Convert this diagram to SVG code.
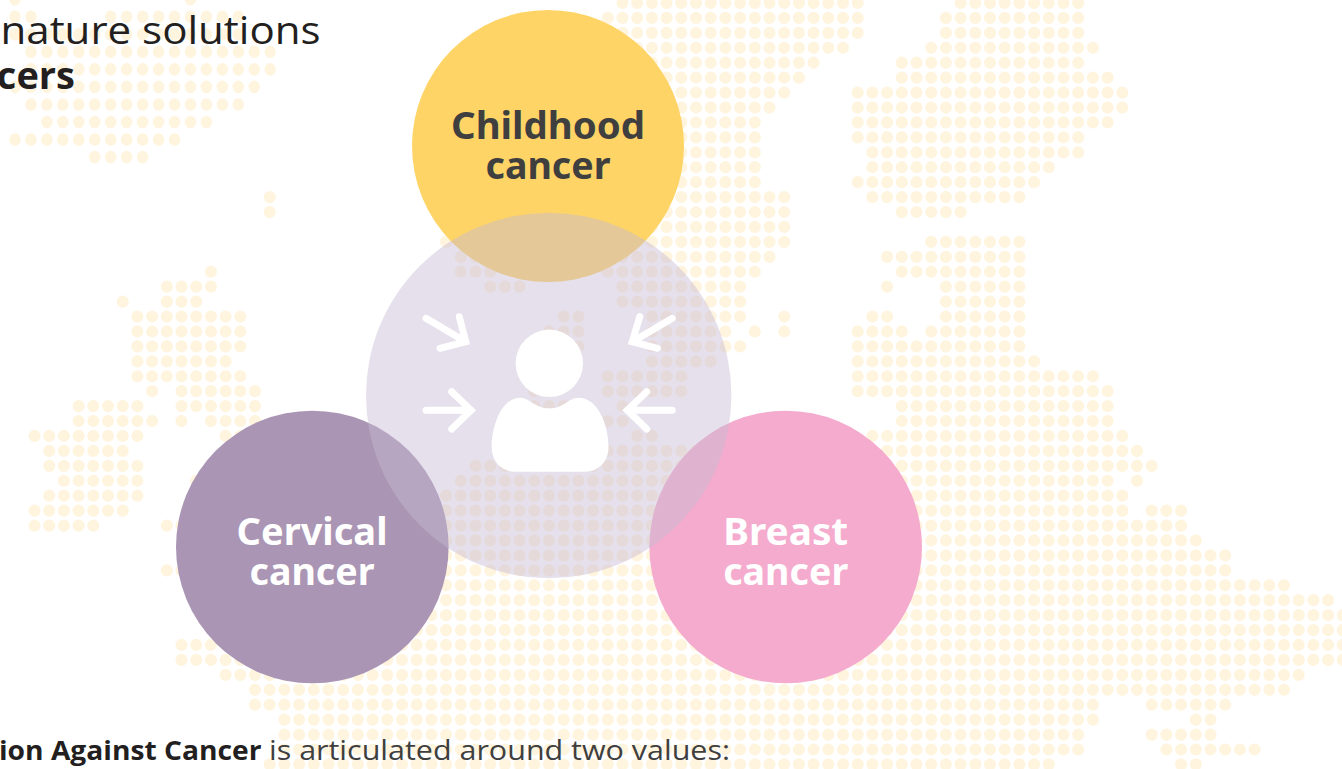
<svg xmlns="http://www.w3.org/2000/svg" width="1342" height="769" viewBox="0 0 1342 769">
<style>
.dots{fill:none;stroke:#FFF4DE;stroke-linecap:round;stroke-dasharray:.001 .999}
.lbl{font-family:"Noto Sans","Open Sans",sans-serif;font-weight:700;font-size:38px;text-anchor:middle}
.txt{font-family:"Open Sans","Noto Sans",sans-serif}
.arrow{fill:none;stroke:#fff;stroke-width:7;stroke-linecap:round;stroke-linejoin:miter}
</style>
<rect width="1342" height="769" fill="#fff"/>
<g id="dot-map">
<g transform="translate(5.1 3) scale(14.7 14.93)"><path class="dots" stroke-width=".82" d="M42 0H58.05M65 0H73.05M41 1H58.05M64 1H73.05M41 2H58.05M64 2H73.05M43 3H57.05M63 3H74.05M43 4H55.05M61 4H73.05M43 5H54.05M61 5H75.05M43 6H53.05M58 6H76.05M43 7H52.05M58 7H76.05M43 8H51.05M58 8H75.05M43 9H51.05M58 9H73.05M43 10H51.05M59 10H73.05M43 11H51.05M59 11H71.05M43 12H51.05M58 12H70.05M18 13h.05M43 13H53.05M59 13H69.05M18 14h.05M43 14H53.05M61 14H65.05M43 15H53.05M30 16H53.05M63 16H69.05M31 17H52.05M60 17H69.05M14 18h.05M31 18H33.05M41 18H51.05M61 18H69.05M11 19H14.05M33 19H35.05M42 19H50.05M60 19h.05M64 19H69.05M8 20h.05M11 20H13.05M42 20H50.05M64 20H69.05M9 21H16.05M38 21H39.05M44 21H50.05M53 21h.05M59 21H60.05M64 21H69.05M9 22H16.05M37 22H39.05M44 22H49.05M51 22h.05M53 22h.05M58 22H61.05M63 22H69.05M9 23H16.05M37 23H39.05M44 23H50.05M58 23H69.05M9 24H15.05M44 24H48.05M58 24H70.05M9 25H16.05M41 25H46.05M58 25H74.05M10 26h.05M12 26H17.05M36 26H37.05M41 26H46.05M58 26H75.05M5 27H9.05M12 27H17.05M36 27H38.05M42 27h.05M61 27H75.05M5 28H10.05M12 28h.05M14 28H17.05M41 28H42.05M61 28H75.05M2 29H9.05M15 29H17.05M43 29H44.05M59 29H76.05M3 30H8.05M41 30H77.05M3 31H9.05M32 31H78.05M4 32H9.05M13 32h.05M31 32H75.05M77 32h.05M3 33H9.05M30 33H76.05M2 34H8.05M20 34H76.05M78 34H80.05M2 35H6.05M11 35H12.05M20 35H80.05M20 36H81.05M20 37H83.05M11 38H12.05M20 38H83.05M20 39H87.05M20 40H90.05M20 41H91.05M20 42H91.05M12 43H91.05M12 44H91.05M15 45H88.05M17 46H87.05M17 47H74.05M78 47H83.05M19 48H74.05M81 48H82.05M19 49H73.05M78 49H82.05M19 50H73.05M79 50H85.05M18 51H71.05M80 51H81.05"/></g>
<g transform="translate(15 16.7) scale(15.95 17.55)"><path class="dots" stroke-width=".72" d="M0 -1h.05M11 -1h.05M0 0H1.05M6 0H14.05M0 1H14.05M1 2H16.05M1 3H16.05M0 4H15.05M1 5H14.05M2 6H12.05M0 7H10.05M5 8H8.05"/></g>
</g>
<g id="heading">
<text class="txt" x="0.5" y="44.3" font-size="39" fill="#231F20" textLength="320" lengthAdjust="spacingAndGlyphs">nature solutions</text>
<text class="txt" x="75" y="88.5" font-size="38" font-weight="700" fill="#231F20" text-anchor="end">cers</text>
</g>
<g id="node-childhood">
<circle cx="548" cy="146" r="136" fill="#FFD466"/>
<text class="lbl" fill="#3F3F3F" x="548" y="138.5" textLength="194" lengthAdjust="spacingAndGlyphs">Childhood</text>
<text class="lbl" fill="#3F3F3F" x="548" y="178.5" textLength="125" lengthAdjust="spacingAndGlyphs">cancer</text>
</g>
<g id="node-cervical">
<circle cx="312.3" cy="547" r="136.3" fill="#AA96B4"/>
<text class="lbl" fill="#fff" x="312" y="545" textLength="151" lengthAdjust="spacingAndGlyphs">Cervical</text>
<text class="lbl" fill="#fff" x="312" y="585" textLength="125" lengthAdjust="spacingAndGlyphs">cancer</text>
</g>
<g id="node-breast">
<circle cx="785.7" cy="547" r="136.3" fill="#F4ABCE"/>
<text class="lbl" fill="#fff" x="785.7" y="545" textLength="125" lengthAdjust="spacingAndGlyphs">Breast</text>
<text class="lbl" fill="#fff" x="785.7" y="585" textLength="125" lengthAdjust="spacingAndGlyphs">cancer</text>
</g>
<g id="node-person">
<circle cx="548.7" cy="395.5" r="182.7" fill="#C5BAD3" fill-opacity=".45"/>
<circle cx="549.3" cy="363.3" r="33.7" fill="#fff"/>
<path fill="#fff" d="M520 397.7C530 398 535 408.3 549.5 408.3C564 408.3 568 398 578.5 397.7C598 397.7 608.5 425 608.5 447C608.5 462 598 471.7 585 471.7H515C502 471.7 491.7 462 491.7 447C491.7 425 502 397.7 520 397.7Z"/>
</g>
<g id="connectors">
<path class="arrow" d="M426 318.3L465.7 341.7M459.3 316.7L465.7 341.7L440 348.3"/>
<path class="arrow" d="M426 410.3H471M451.7 391.7L471 410.3L451.7 429"/>
<path class="arrow" d="M672.3 318.3L632.3 341.7M639.7 316.7L632.3 341.7L657.3 348.3"/>
<path class="arrow" d="M672.3 410.3H627.3M646.7 391.7L627.3 410.3L646.7 429"/>
</g>
<g id="footer">
<text class="txt" x="-1" y="760" font-size="27.5" font-weight="700" fill="#231F20" textLength="262.5" lengthAdjust="spacingAndGlyphs">ion Against Cancer</text>
<text class="txt" x="269" y="760" font-size="27.5" fill="#3F3F3F" textLength="461" lengthAdjust="spacingAndGlyphs">is articulated around two values:</text>
</g>
</svg>
